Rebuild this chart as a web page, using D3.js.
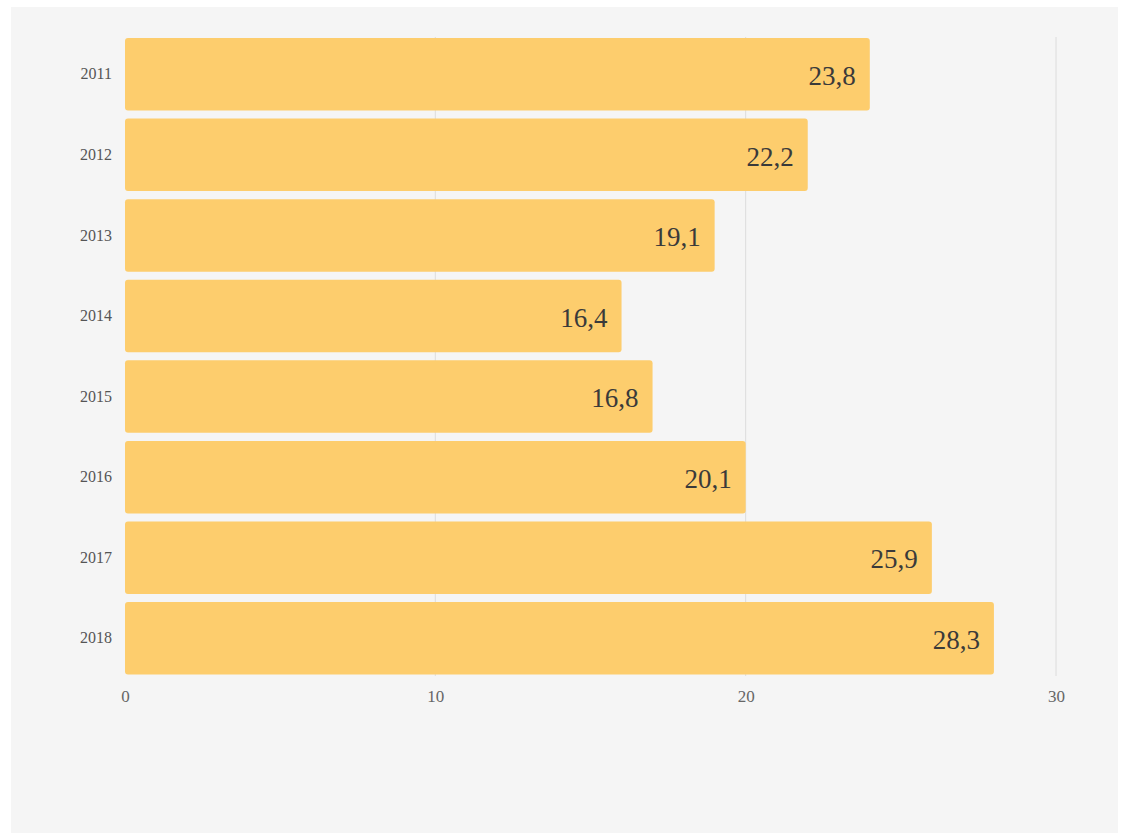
<!DOCTYPE html>
<html><head><meta charset="utf-8">
<script src="https://cdn.jsdelivr.net/npm/d3@7"></script>
<style>
html,body{margin:0;padding:0;background:#fff;}
svg{display:block;}
</style></head>
<body>
<script>
const years = ["2011","2012","2013","2014","2015","2016","2017","2018"];
const barValues = [24, 22, 19, 16, 17, 20, 26, 28];
const labels = ["23,8","22,2","19,1","16,4","16,8","20,1","25,9","28,3"];
const xTicks = [0, 10, 20, 30];

const W = 1121, H = 833;
const svg = d3.select("body").append("svg").attr("width", W).attr("height", H);
svg.append("rect").attr("x", 11).attr("y", 7).attr("width", 1107).attr("height", H - 7).attr("fill", "#f5f5f5");

const x = d3.scaleLinear().domain([0, 30]).range([125, 1056]);
const y = d3.scaleBand().domain(years).range([34, 678.6]).paddingInner(0.1).paddingOuter(0.05);

const font = "'Liberation Serif', 'DejaVu Serif', serif";

// grid lines
svg.append("g").selectAll("line").data(xTicks.filter(d => d > 0)).join("line")
  .attr("x1", d => x(d)).attr("x2", d => x(d))
  .attr("y1", 37).attr("y2", 676)
  .attr("stroke", "#dcdcdc").attr("stroke-width", 1);

// bars
const data = years.map((yr, i) => ({yr, v: barValues[i], label: labels[i]}));
svg.append("g").selectAll("rect").data(data).join("rect")
  .attr("x", x(0)).attr("y", d => y(d.yr))
  .attr("width", d => x(d.v) - x(0)).attr("height", y.bandwidth())
  .attr("rx", 3).attr("fill", "#fdcd6d");

// value labels
svg.append("g").selectAll("text").data(data).join("text")
  .attr("x", d => x(d.v) - 14)
  .attr("y", d => y(d.yr) + y.bandwidth() / 2 + 1)
  .attr("dy", "0.36em")
  .attr("text-anchor", "end")
  .attr("font-family", font).attr("font-size", 27)
  .attr("fill", "#3a3a3a")
  .text(d => d.label);

// y axis
const yAxis = d3.axisLeft(y).tickSize(0).tickPadding(13);
const gy = svg.append("g").attr("transform", `translate(${x(0)},0)`).call(yAxis);
gy.select(".domain").remove();
gy.selectAll("text").attr("font-family", font).attr("font-size", 16).attr("fill", "#555");

// x axis
const xAxis = d3.axisBottom(x).tickValues(xTicks).tickSize(0).tickPadding(0).tickFormat(d3.format("d"));
const gx = svg.append("g").attr("transform", `translate(0,690)`).call(xAxis);
gx.select(".domain").remove();
gx.selectAll("text").attr("font-family", font).attr("font-size", 17).attr("fill", "#666");
</script>
</body></html>
